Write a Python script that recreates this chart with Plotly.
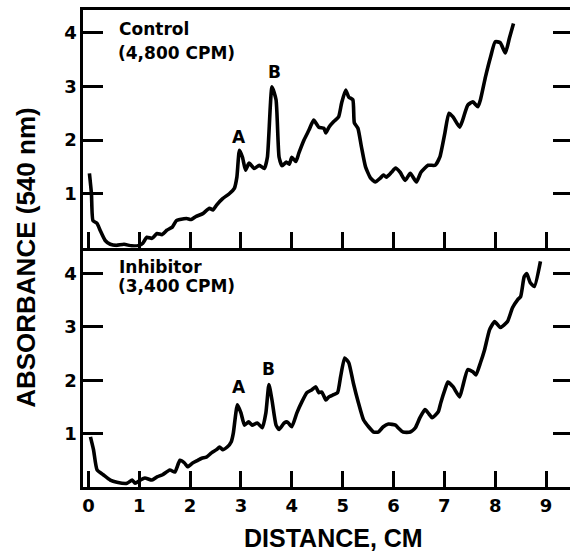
import plotly.graph_objects as go

# ---- data ----
control_x = [0.02, 0.06, 0.09, 0.17, 0.23, 0.33, 0.43, 0.55, 0.7, 0.85, 1.0, 1.07, 1.15, 1.25, 1.35, 1.45, 1.54,
             1.65, 1.73, 1.8, 1.93, 2.02, 2.12, 2.25, 2.38, 2.45, 2.52, 2.64, 2.77, 2.87, 2.92, 2.97, 3.03, 3.09,
             3.16, 3.26, 3.36, 3.46, 3.52, 3.61, 3.69, 3.75, 3.81, 3.89, 3.95, 4.0, 4.08, 4.14, 4.24, 4.34, 4.43,
             4.53, 4.63, 4.67, 4.73, 4.82, 4.92, 4.98, 5.06, 5.12, 5.2, 5.23, 5.3, 5.37, 5.45, 5.55, 5.64, 5.74,
             5.8, 5.86, 5.96, 6.04, 6.13, 6.23, 6.33, 6.45, 6.54, 6.68, 6.82, 6.91, 7.01, 7.09, 7.17, 7.3, 7.36,
             7.46, 7.56, 7.66, 7.71, 7.81, 7.91, 8.0, 8.1, 8.2, 8.28, 8.36]
control_y = [1.38, 1.0, 0.5, 0.45, 0.32, 0.13, 0.06, 0.04, 0.06, 0.03, 0.04, 0.08, 0.19, 0.17, 0.26, 0.24, 0.32,
             0.38, 0.5, 0.52, 0.54, 0.52, 0.58, 0.63, 0.73, 0.7, 0.79, 0.91, 1.0, 1.1, 1.31, 1.81, 1.68, 1.44,
             1.57, 1.47, 1.53, 1.47, 1.68, 2.99, 2.75, 1.68, 1.52, 1.59, 1.55, 1.68, 1.6, 1.76, 2.0, 2.19, 2.37,
             2.24, 2.22, 2.13, 2.24, 2.34, 2.43, 2.69, 2.93, 2.8, 2.75, 2.32, 2.22, 1.87, 1.5, 1.29, 1.22, 1.29,
             1.35, 1.31, 1.4, 1.48, 1.4, 1.25, 1.38, 1.22, 1.4, 1.53, 1.53, 1.68, 2.13, 2.5, 2.43, 2.24, 2.37,
             2.65, 2.71, 2.62, 2.75, 3.18, 3.55, 3.83, 3.81, 3.62, 3.9, 4.17]

inhibitor_x = [0.04, 0.1, 0.17, 0.29, 0.43, 0.56, 0.76, 0.86, 0.92, 1.02, 1.11, 1.25, 1.35, 1.46, 1.6, 1.7, 1.8,
               1.89, 1.95, 2.05, 2.15, 2.23, 2.32, 2.42, 2.52, 2.58, 2.64, 2.73, 2.81, 2.85, 2.93, 3.0, 3.07,
               3.15, 3.22, 3.32, 3.42, 3.49, 3.55, 3.61, 3.69, 3.75, 3.85, 3.91, 4.0, 4.1, 4.2, 4.3, 4.39, 4.47,
               4.53, 4.59, 4.67, 4.73, 4.82, 4.9, 4.96, 5.04, 5.12, 5.21, 5.31, 5.41, 5.51, 5.61, 5.7, 5.8, 5.9,
               6.04, 6.09, 6.19, 6.33, 6.43, 6.52, 6.62, 6.68, 6.76, 6.88, 6.93, 7.01, 7.07, 7.17, 7.3, 7.36,
               7.46, 7.56, 7.62, 7.71, 7.79, 7.89, 7.99, 8.1, 8.24, 8.34, 8.44, 8.5, 8.57, 8.62, 8.69, 8.77, 8.89]
inhibitor_y = [0.94, 0.7, 0.32, 0.23, 0.13, 0.09, 0.07, 0.13, 0.07, 0.13, 0.17, 0.13, 0.19, 0.23, 0.32, 0.28, 0.5,
               0.45, 0.38, 0.45, 0.5, 0.54, 0.56, 0.64, 0.7, 0.75, 0.7, 0.75, 0.85, 1.01, 1.54, 1.39, 1.16,
               1.22, 1.16, 1.2, 1.11, 1.39, 1.92, 1.63, 1.16, 1.08, 1.2, 1.22, 1.13, 1.39, 1.6, 1.77, 1.82, 1.88,
               1.77, 1.78, 1.63, 1.69, 1.73, 1.77, 2.07, 2.42, 2.33, 1.95, 1.58, 1.26, 1.13, 1.03, 1.03, 1.13, 1.18,
               1.16, 1.11, 1.03, 1.03, 1.11, 1.3, 1.45, 1.39, 1.3, 1.41, 1.58, 1.82, 1.97, 1.88, 1.69, 1.88,
               2.2, 2.16, 2.1, 2.33, 2.57, 2.95, 3.1, 2.99, 3.1, 3.36, 3.51, 3.57, 3.94, 4.0, 3.83, 3.76, 4.23]

x_ticks = [0, 1, 2, 3, 4, 5, 6, 7, 8, 9]
x_ticklabels = ["0", "1", "2", "3", "4", "5", "6", "7", "8", "9"]
y_ticks = [1, 2, 3, 4]
y_ticklabels = ["1", "2", "3", "4"]

panel_titles = [("Control", "(4,800 CPM)"), ("Inhibitor", "(3,400 CPM)")]
peak_labels_control = [("A", 2.97, 2.06), ("B", 3.65, 3.27)]
peak_labels_inhibitor = [("A", 2.97, 1.88), ("B", 3.55, 2.22)]

# ---- figure ----
# The reference is a crop: its right frame edge lies just beyond the picture.
# The figure is therefore 6 px wider than the 570 px window, whose overflow is hidden.
W, H = 576, 553
BLACK = "#000000"
tick_font = dict(family="DejaVu Sans", size=18, color=BLACK, weight="bold")
label_font = dict(family="Liberation Sans, Arial", size=26, color=BLACK, weight="bold")
text_font = dict(family="DejaVu Sans", size=17, color=BLACK, weight="bold")

fig = go.Figure()
line_style = dict(color=BLACK, width=3.6, shape="spline", smoothing=0.5)
fig.add_trace(go.Scatter(x=control_x, y=control_y, mode="lines", line=line_style,
                         xaxis="x", yaxis="y", showlegend=False, hoverinfo="skip"))
fig.add_trace(go.Scatter(x=inhibitor_x, y=inhibitor_y, mode="lines", line=line_style,
                         xaxis="x2", yaxis="y2", showlegend=False, hoverinfo="skip"))

x_dom = [83 / W, 1.0]
x_range = [-0.098, 9.53]
top_dom = [1 - 247.5 / H, 1 - 10 / H]
bot_dom = [1 - 487 / H, 1 - 247.5 / H]
top_range = [0, 4.42]
bot_range = [0, 4.49]

common_x = dict(range=x_range, domain=x_dom, tickmode="array", tickvals=x_ticks,
                ticks="inside", ticklen=16, tickwidth=3, tickcolor=BLACK,
                showline=True, linewidth=3, linecolor=BLACK, showgrid=False, zeroline=False,
                fixedrange=True)
common_y = dict(tickmode="array", tickvals=y_ticks, ticktext=y_ticklabels,
                ticks="inside", ticklen=20, tickwidth=3, tickcolor=BLACK,
                showline=True, linewidth=3, linecolor=BLACK, showgrid=False, zeroline=False,
                tickfont=tick_font, fixedrange=True, mirror="ticks")

fig.update_layout(
    width=W, height=H,
    margin=dict(l=0, r=0, t=0, b=0),
    paper_bgcolor="white", plot_bgcolor="white",
    xaxis=dict(common_x, anchor="y", showticklabels=False, mirror=True),
    yaxis=dict(common_y, domain=top_dom, range=top_range, anchor="x"),
    xaxis2=dict(common_x, anchor="y2", ticktext=x_ticklabels, showticklabels=True, tickfont=tick_font),
    yaxis2=dict(common_y, domain=bot_dom, range=bot_range, anchor="x2"),
)

annotations = []
for (t1, t2), xr, yr, y1, y2 in [(panel_titles[0], "x", "y", 4.07, 3.62),
                                  (panel_titles[1], "x2", "y2", 4.13, 3.76)]:
    annotations.append(dict(text=t1, x=0.56, y=y1, xref=xr, yref=yr, xanchor="left", yanchor="middle",
                            showarrow=False, font=text_font))
    annotations.append(dict(text=t2, x=0.54, y=y2, xref=xr, yref=yr, xanchor="left", yanchor="middle",
                            showarrow=False, font=text_font))
for txt, px, py in peak_labels_control:
    annotations.append(dict(text=txt, x=px, y=py, xref="x", yref="y", showarrow=False, font=text_font))
for txt, px, py in peak_labels_inhibitor:
    annotations.append(dict(text=txt, x=px, y=py, xref="x2", yref="y2", showarrow=False, font=text_font))
annotations.append(dict(text="ABSORBANCE (540 nm)", x=25 / W, y=1 - 257 / H, xref="paper", yref="paper",
                        textangle=-90, showarrow=False, font=label_font, xanchor="center", yanchor="middle"))
annotations.append(dict(text="DISTANCE, CM", x=335 / W, y=1 - 538 / H, xref="paper", yref="paper",
                        showarrow=False, font=dict(label_font, size=25), xanchor="center", yanchor="middle"))
fig.update_layout(annotations=annotations)

fig.write_html("out.html", config={"displayModeBar": False},
               post_script="document.documentElement.style.overflow='hidden';"
                           "document.body.style.margin='0';document.body.style.overflow='hidden';")
